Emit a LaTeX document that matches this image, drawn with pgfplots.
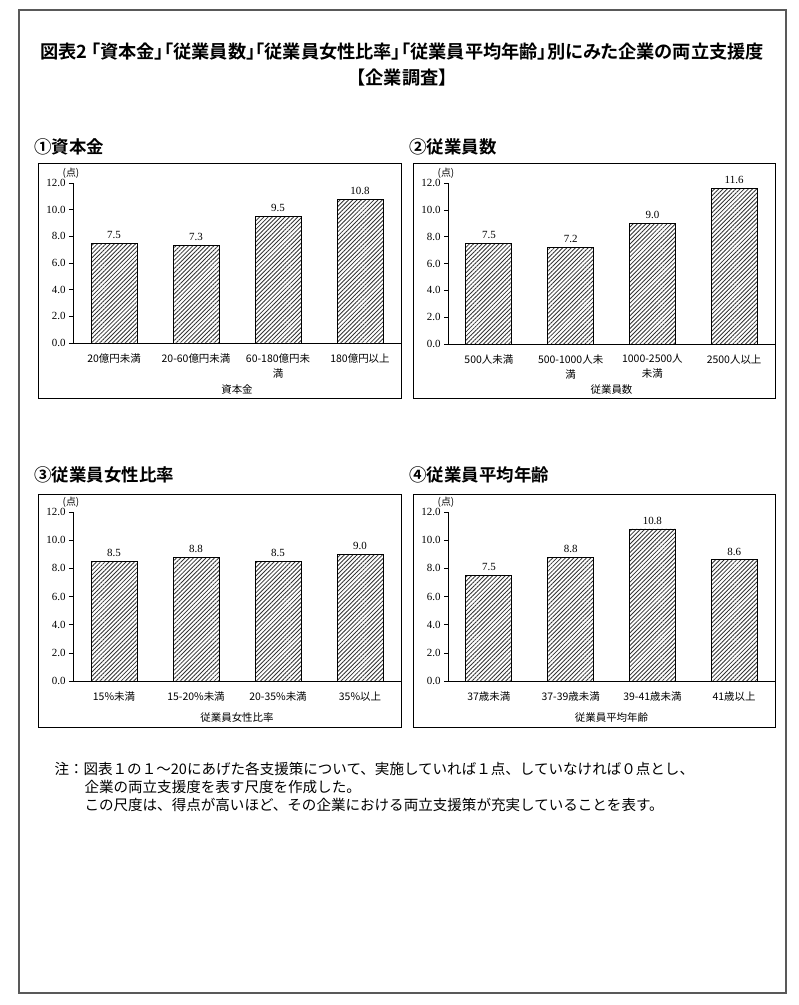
\documentclass[border=0pt]{standalone}
\usepackage{fontspec}
\setmainfont{Noto Sans CJK JP}
\newfontfamily\boldjp{Noto Sans CJK JP}[UprightFont=* Bold, RawFeature=+palt]
\newfontfamily\serif{Liberation Serif}
\usepackage{pgfplots}
\pgfplotsset{compat=1.18}
\usetikzlibrary{patterns.meta}

\pgfplotsset{
  panel/.style={
    scale only axis,
    anchor=south west,
    width=328bp, height=160bp,
    xmin=-0.5, xmax=3.5, ymin=0, ymax=12,
    axis lines*=left,
    axis line style={black, line width=0.8pt},
    ytick={0,2,...,12},
    xtick={0,1,2,3},
    x tick style={draw=none},
    y tick style={black, line width=0.6pt},
    tick align=outside,
    major tick length=4bp,
    /pgf/number format/assume math mode=true,
    y tick label style={font=\serif\fontsize{11}{12}\selectfont,
      /pgf/number format/.cd, fixed, fixed zerofill, precision=1, /tikz/.cd},
    x tick label style={font=\fontsize{10.5}{15}\selectfont, align=center,
      anchor=north, yshift=-3bp},
    ybar, bar width=46bp,
    nodes near coords={\pgfmathprintnumber[fixed,fixed zerofill,precision=1,assume math mode=true]{\pgfplotspointmeta}},
    nodes near coords style={font=\serif\fontsize{11}{12}\selectfont, yshift=1bp},
    clip=false,
  },
  hatched/.style={draw=black, line width=0.8pt,
    pattern={Lines[angle=45, distance=3pt, line width=0.85pt]}, pattern color=black!80},
}

\begin{document}
\begin{tikzpicture}
\path[use as bounding box] (0,0) rectangle (799bp,-1005bp);
\draw[gray!70!black, line width=1.2pt] (19bp,-10bp) rectangle (786bp,-993bp);

% title
\node[font=\boldjp\fontsize{18.3}{20}\selectfont] at (402bp,-52bp)
  {図表2 「資本金」「従業員数」「従業員女性比率」「従業員平均年齢」別にみた企業の両立支援度};
\node[font=\boldjp\fontsize{18.3}{20}\selectfont] at (402bp,-78bp) {【企業調査】};

% panel titles and frames
\node[font=\boldjp\fontsize{17.5}{18}\selectfont, anchor=west] at (31bp,-147bp) {①資本金};
\node[font=\boldjp\fontsize{17.5}{18}\selectfont, anchor=west] at (406bp,-147bp) {②従業員数};
\node[font=\boldjp\fontsize{17.5}{18}\selectfont, anchor=west] at (31bp,-475bp) {③従業員女性比率};
\node[font=\boldjp\fontsize{17.5}{18}\selectfont, anchor=west] at (406bp,-475bp) {④従業員平均年齢};
\draw[line width=0.8pt] (38bp,-163bp) rectangle (401bp,-398bp);
\draw[line width=0.8pt] (413bp,-163bp) rectangle (775bp,-398bp);
\draw[line width=0.8pt] (38bp,-494bp) rectangle (401bp,-727bp);
\draw[line width=0.8pt] (413bp,-494bp) rectangle (775bp,-727bp);

% 1
\begin{axis}[panel, at={(73bp,-343bp)}, width=328bp, height=160bp,
  xticklabels={20億円未満, 20-60億円未満, {60-180億円未\\満}, 180億円以上}]
\addplot[hatched] coordinates {(0,7.5) (1,7.3) (2,9.5) (3,10.8)};
\node[font=\fontsize{10}{10}\selectfont, anchor=south, xshift=-2bp, yshift=1bp] at (rel axis cs:0,1) {(点)};
\node[font=\fontsize{10.5}{12}\selectfont, yshift=-47bp] at (rel axis cs:0.5,0) {資本金};
\end{axis}

% 2
\begin{axis}[panel, at={(448bp,-344bp)}, width=327bp, height=161bp,
  xticklabels={500人未満, {500-1000人未\\満}, {1000-2500人\\未満}, 2500人以上}]
\addplot[hatched] coordinates {(0,7.5) (1,7.2) (2,9.0) (3,11.6)};
\node[font=\fontsize{10}{10}\selectfont, anchor=south, xshift=-2bp, yshift=1bp] at (rel axis cs:0,1) {(点)};
\node[font=\fontsize{10.5}{12}\selectfont, yshift=-46bp] at (rel axis cs:0.5,0) {従業員数};
\end{axis}

% 3
\begin{axis}[panel, at={(73bp,-681bp)}, width=328bp, height=169bp,
  xticklabels={15\%未満, 15-20\%未満, 20-35\%未満, 35\%以上}]
\addplot[hatched] coordinates {(0,8.5) (1,8.8) (2,8.5) (3,9.0)};
\node[font=\fontsize{10}{10}\selectfont, anchor=south, xshift=-2bp, yshift=1bp] at (rel axis cs:0,1) {(点)};
\node[font=\fontsize{10.5}{12}\selectfont, yshift=-37bp] at (rel axis cs:0.5,0) {従業員女性比率};
\end{axis}

% 4
\begin{axis}[panel, at={(448bp,-681bp)}, width=327bp, height=169bp,
  xticklabels={37歳未満, 37-39歳未満, 39-41歳未満, 41歳以上}]
\addplot[hatched] coordinates {(0,7.5) (1,8.8) (2,10.8) (3,8.6)};
\node[font=\fontsize{10}{10}\selectfont, anchor=south, xshift=-2bp, yshift=1bp] at (rel axis cs:0,1) {(点)};
\node[font=\fontsize{10.5}{12}\selectfont, yshift=-37bp] at (rel axis cs:0.5,0) {従業員平均年齢};
\end{axis}

% note
\node[font=\fontsize{14.6}{16}\selectfont, anchor=west] at (51bp,-769bp)
  {注：図表１の１～20にあげた各支援策について、実施していれば１点、していなければ０点とし、};
\node[font=\fontsize{14.6}{16}\selectfont, anchor=west] at (81bp,-787bp)
  {企業の両立支援度を表す尺度を作成した。};
\node[font=\fontsize{14.6}{16}\selectfont, anchor=west] at (81bp,-805bp)
  {この尺度は、得点が高いほど、その企業における両立支援策が充実していることを表す。};
\end{tikzpicture}
\end{document}
